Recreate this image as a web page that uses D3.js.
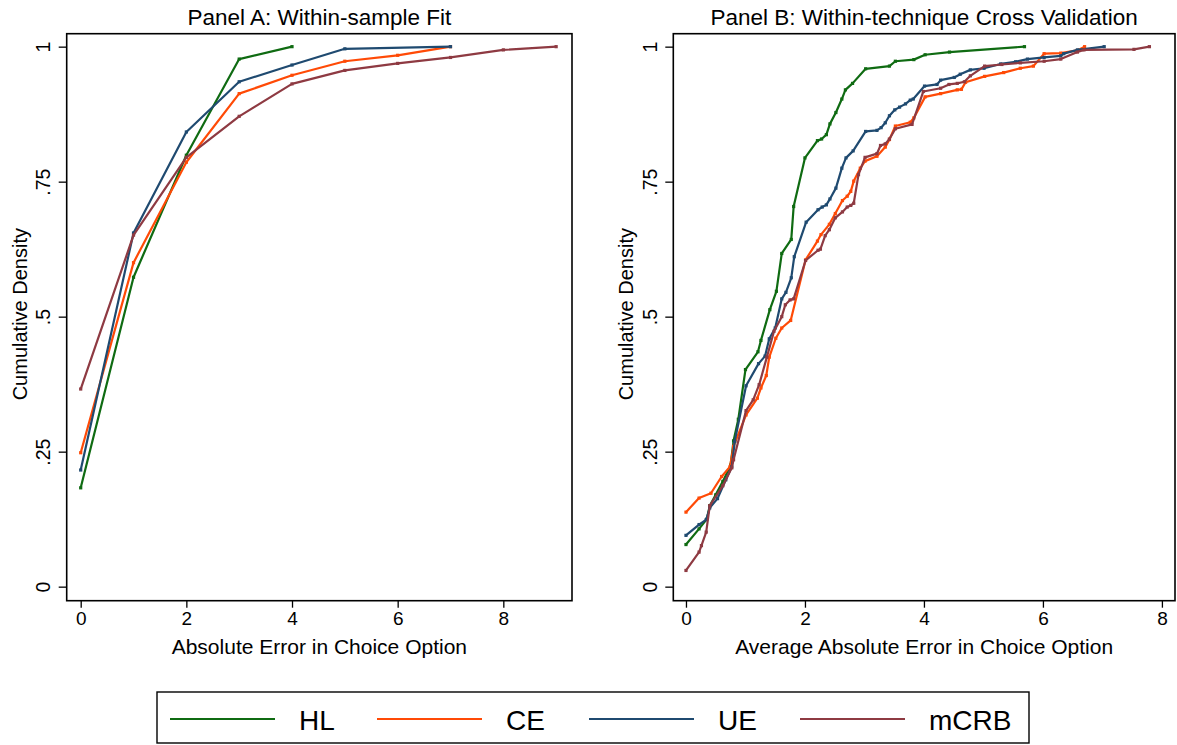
<!DOCTYPE html>
<html lang="en">
<head>
<meta charset="UTF-8">
<title>Cumulative Density of Absolute Error</title>
<script src="https://d3js.org/d3.v7.min.js"></script>
<style>
    body { margin: 0; background: #fff; }
    svg text { font-family: "Liberation Sans", Arial, Helvetica, sans-serif; fill: #000; }
    .frame { fill: none; stroke: #000; stroke-width: 1.6; }
    .series { fill: none; stroke-width: 2.2; stroke-linejoin: round; }
</style>
</head>
<body>
<div id="chart"></div>
<script>
// series names and colours (legend order)
const seriesNames = ["HL", "CE", "UE", "mCRB"];
const seriesColors = ["#0f6b12", "#ff4a06", "#1f4a70", "#8e3a42"];

const xTicks = [0, 2, 4, 6, 8];
const yTicks = [0, 0.25, 0.5, 0.75, 1];
const yTickLabels = ["0", ".25", ".5", ".75", "1"];

// Panel A: within-sample fit, [absolute error, cumulative density]
const panelA_HL = [[0, .183], [1, .573], [2, .799], [3, .977], [4, 1]];
const panelA_CE = [[0, .248], [1, .600], [2, .786], [3, .913], [4, .947], [5, .973], [6, .984], [7, 1]];
const panelA_UE = [[0, .216], [1, .655], [2, .842], [3, .935], [4, .966], [5, .996], [7, 1]];
const panelA_mCRB = [[0, .366], [1, .651], [2, .795], [3, .871], [4, .931], [5, .956], [6, .969], [7, .980], [8, .994], [9, 1]];

// Panel B: within-technique cross validation, [average absolute error, cumulative density]
const panelB_HL = [
    [0, .078], [.22, .107], [.35, .125], [.40, .15], [.50, .17], [.62, .195], [.75, .225],
    [.80, .27], [.88, .31], [1.0, .402], [1.21, .435], [1.26, .456], [1.41, .513], [1.52, .547],
    [1.61, .617], [1.77, .643], [1.81, .704], [2.0, .794], [2.21, .826], [2.28, .829], [2.36, .837],
    [2.42, .857], [2.52, .878], [2.62, .903], [2.68, .920], [2.80, .932], [3.02, .959], [3.42, .964],
    [3.52, .973], [3.83, .976], [4.02, .985], [4.43, .990], [5.69, 1]
];
const panelB_CE = [
    [0, .138], [.22, .164], [.42, .173], [.60, .204], [.74, .222], [.80, .26], [1.01, .318],
    [1.20, .349], [1.26, .368], [1.35, .391], [1.40, .425], [1.51, .460], [1.61, .479], [1.76, .493],
    [2.01, .605], [2.21, .640], [2.27, .652], [2.41, .671], [2.51, .691], [2.63, .715], [2.71, .723],
    [2.77, .732], [2.82, .751], [2.93, .775], [3.01, .788], [3.21, .797], [3.35, .814], [3.42, .828],
    [3.52, .853], [3.77, .860], [3.83, .868], [4.02, .907], [4.28, .913], [4.56, .920], [4.63, .921],
    [4.70, .934], [5.02, .945], [5.34, .952], [5.62, .960], [5.84, .964], [6.02, .987], [6.30, .988],
    [6.58, .993], [6.70, 1]
];
const panelB_UE = [
    [0, .095], [.22, .115], [.34, .124], [.40, .146], [.53, .163], [.67, .198], [.77, .222],
    [.82, .269], [1.01, .372], [1.22, .413], [1.33, .427], [1.40, .459], [1.50, .479], [1.61, .533],
    [1.68, .545], [1.77, .572], [1.82, .611], [2.02, .675], [2.22, .698], [2.29, .703], [2.36, .707],
    [2.42, .718], [2.52, .738], [2.62, .775], [2.69, .794], [2.81, .807], [3.02, .843], [3.21, .845],
    [3.28, .850], [3.35, .859], [3.42, .872], [3.51, .883], [3.59, .888], [3.69, .894], [3.77, .901],
    [3.82, .903], [4.01, .927], [4.22, .930], [4.28, .938], [4.51, .943], [4.61, .949], [4.78, .957],
    [5.01, .960], [5.29, .968], [5.54, .972], [5.74, .977], [6.02, .980], [6.30, .983], [6.35, .987],
    [6.58, .994], [7.03, 1]
];
const panelB_mCRB = [
    [0, .030], [.22, .064], [.26, .076], [.34, .101], [.40, .150], [.62, .187], [.77, .220],
    [.80, .235], [1.01, .326], [1.13, .346], [1.23, .374], [1.36, .425], [1.48, .473], [1.61, .500],
    [1.67, .522], [1.75, .531], [1.81, .533], [2.01, .604], [2.22, .623], [2.26, .625], [2.34, .650],
    [2.41, .661], [2.51, .683], [2.63, .694], [2.71, .703], [2.77, .706], [2.82, .710], [2.90, .763],
    [3.01, .795], [3.21, .802], [3.27, .817], [3.35, .820], [3.42, .829], [3.52, .848], [3.80, .856],
    [3.99, .917], [4.28, .923], [4.42, .930], [4.56, .932], [4.68, .935], [4.78, .946], [5.02, .964],
    [5.31, .967], [5.62, .970], [6.02, .973], [6.30, .977], [6.58, .990], [6.69, .994], [7.53, .995],
    [7.79, 1]
];

const panels = [
    {
        title: "Panel A: Within-sample Fit",
        xTitle: "Absolute Error in Choice Option",
        left: 66.7, right: 572, xDomain: [-0.265, 9.3],
        series: [panelA_HL, panelA_CE, panelA_UE, panelA_mCRB]
    },
    {
        title: "Panel B: Within-technique Cross Validation",
        xTitle: "Average Absolute Error in Choice Option",
        left: 673.3, right: 1175, xDomain: [-0.213, 8.22],
        series: [panelB_HL, panelB_CE, panelB_UE, panelB_mCRB]
    }
];

const W = 1177, H = 745;
const plotTop = 33.7, plotBottom = 600.7;

const svg = d3.select("#chart").append("svg")
    .attr("width", W)
    .attr("height", H);

const y = d3.scaleLinear().domain([-0.026, 1.024]).range([plotBottom, plotTop]);

panels.forEach(function(p) {
    const x = d3.scaleLinear().domain(p.xDomain).range([p.left, p.right]);
    const g = svg.append("g");

    // title
    g.append("text")
        .attr("x", (p.left + p.right) / 2)
        .attr("y", 25)
        .attr("text-anchor", "middle")
        .style("font-size", "22.5px")
        .text(p.title);

    // x axis
    const xa = g.append("g").attr("transform", "translate(0," + plotBottom + ")")
        .call(d3.axisBottom(x).tickValues(xTicks).tickSize(7).tickPadding(4).tickFormat(d3.format("d")));
    xa.select(".domain").remove();
    xa.selectAll("line").attr("stroke", "#000").attr("stroke-width", 1.3);
    xa.selectAll("text").style("font-size", "19px");

    // y axis with rotated labels
    const ya = g.append("g").attr("transform", "translate(" + p.left + ",0)")
        .call(d3.axisLeft(y).tickValues(yTicks).tickSize(8).tickFormat((d, i) => yTickLabels[i]));
    ya.select(".domain").remove();
    ya.selectAll("line").attr("stroke", "#000").attr("stroke-width", 1.3);
    ya.selectAll("text")
        .attr("x", null).attr("dy", null)
        .attr("text-anchor", "middle")
        .attr("transform", "translate(-16.5,0) rotate(-90)")
        .style("font-size", "19.5px");

    // axis titles
    g.append("text")
        .attr("x", (p.left + p.right) / 2)
        .attr("y", 654)
        .attr("text-anchor", "middle")
        .style("font-size", "21px")
        .text(p.xTitle);
    g.append("text")
        .attr("transform", "translate(" + (p.left - 40) + "," + ((plotTop + plotBottom) / 2 - 3) + ") rotate(-90)")
        .attr("text-anchor", "middle")
        .style("font-size", "20px")
        .text("Cumulative Density");

    // series lines + small markers
    const line = d3.line().x(d => x(d[0])).y(d => y(d[1]));
    p.series.forEach(function(s, i) {
        g.append("path")
            .datum(s)
            .attr("class", "series")
            .attr("stroke", seriesColors[i])
            .attr("d", line);
        g.selectAll(null)
            .data(s)
            .enter().append("rect")
            .attr("x", d => x(d[0]) - 1.6)
            .attr("y", d => y(d[1]) - 1.6)
            .attr("width", 3.2)
            .attr("height", 3.2)
            .attr("fill", seriesColors[i]);
    });

    // plot frame
    g.append("rect")
        .attr("class", "frame")
        .attr("x", p.left).attr("y", plotTop)
        .attr("width", p.right - p.left)
        .attr("height", plotBottom - plotTop);
});

// legend
const legend = svg.append("g");
legend.append("rect")
    .attr("x", 157).attr("y", 692)
    .attr("width", 872).attr("height", 51)
    .attr("fill", "none").attr("stroke", "#000").attr("stroke-width", 1.4);

const legendLineX = [170, 377, 589, 800];
seriesNames.forEach(function(name, i) {
    legend.append("line")
        .attr("x1", legendLineX[i]).attr("x2", legendLineX[i] + 105)
        .attr("y1", 719).attr("y2", 719)
        .attr("stroke", seriesColors[i]).attr("stroke-width", 2.2);
    legend.append("text")
        .attr("x", legendLineX[i] + 129)
        .attr("y", 730)
        .style("font-size", "28px")
        .text(name);
});
</script>
</body>
</html>
